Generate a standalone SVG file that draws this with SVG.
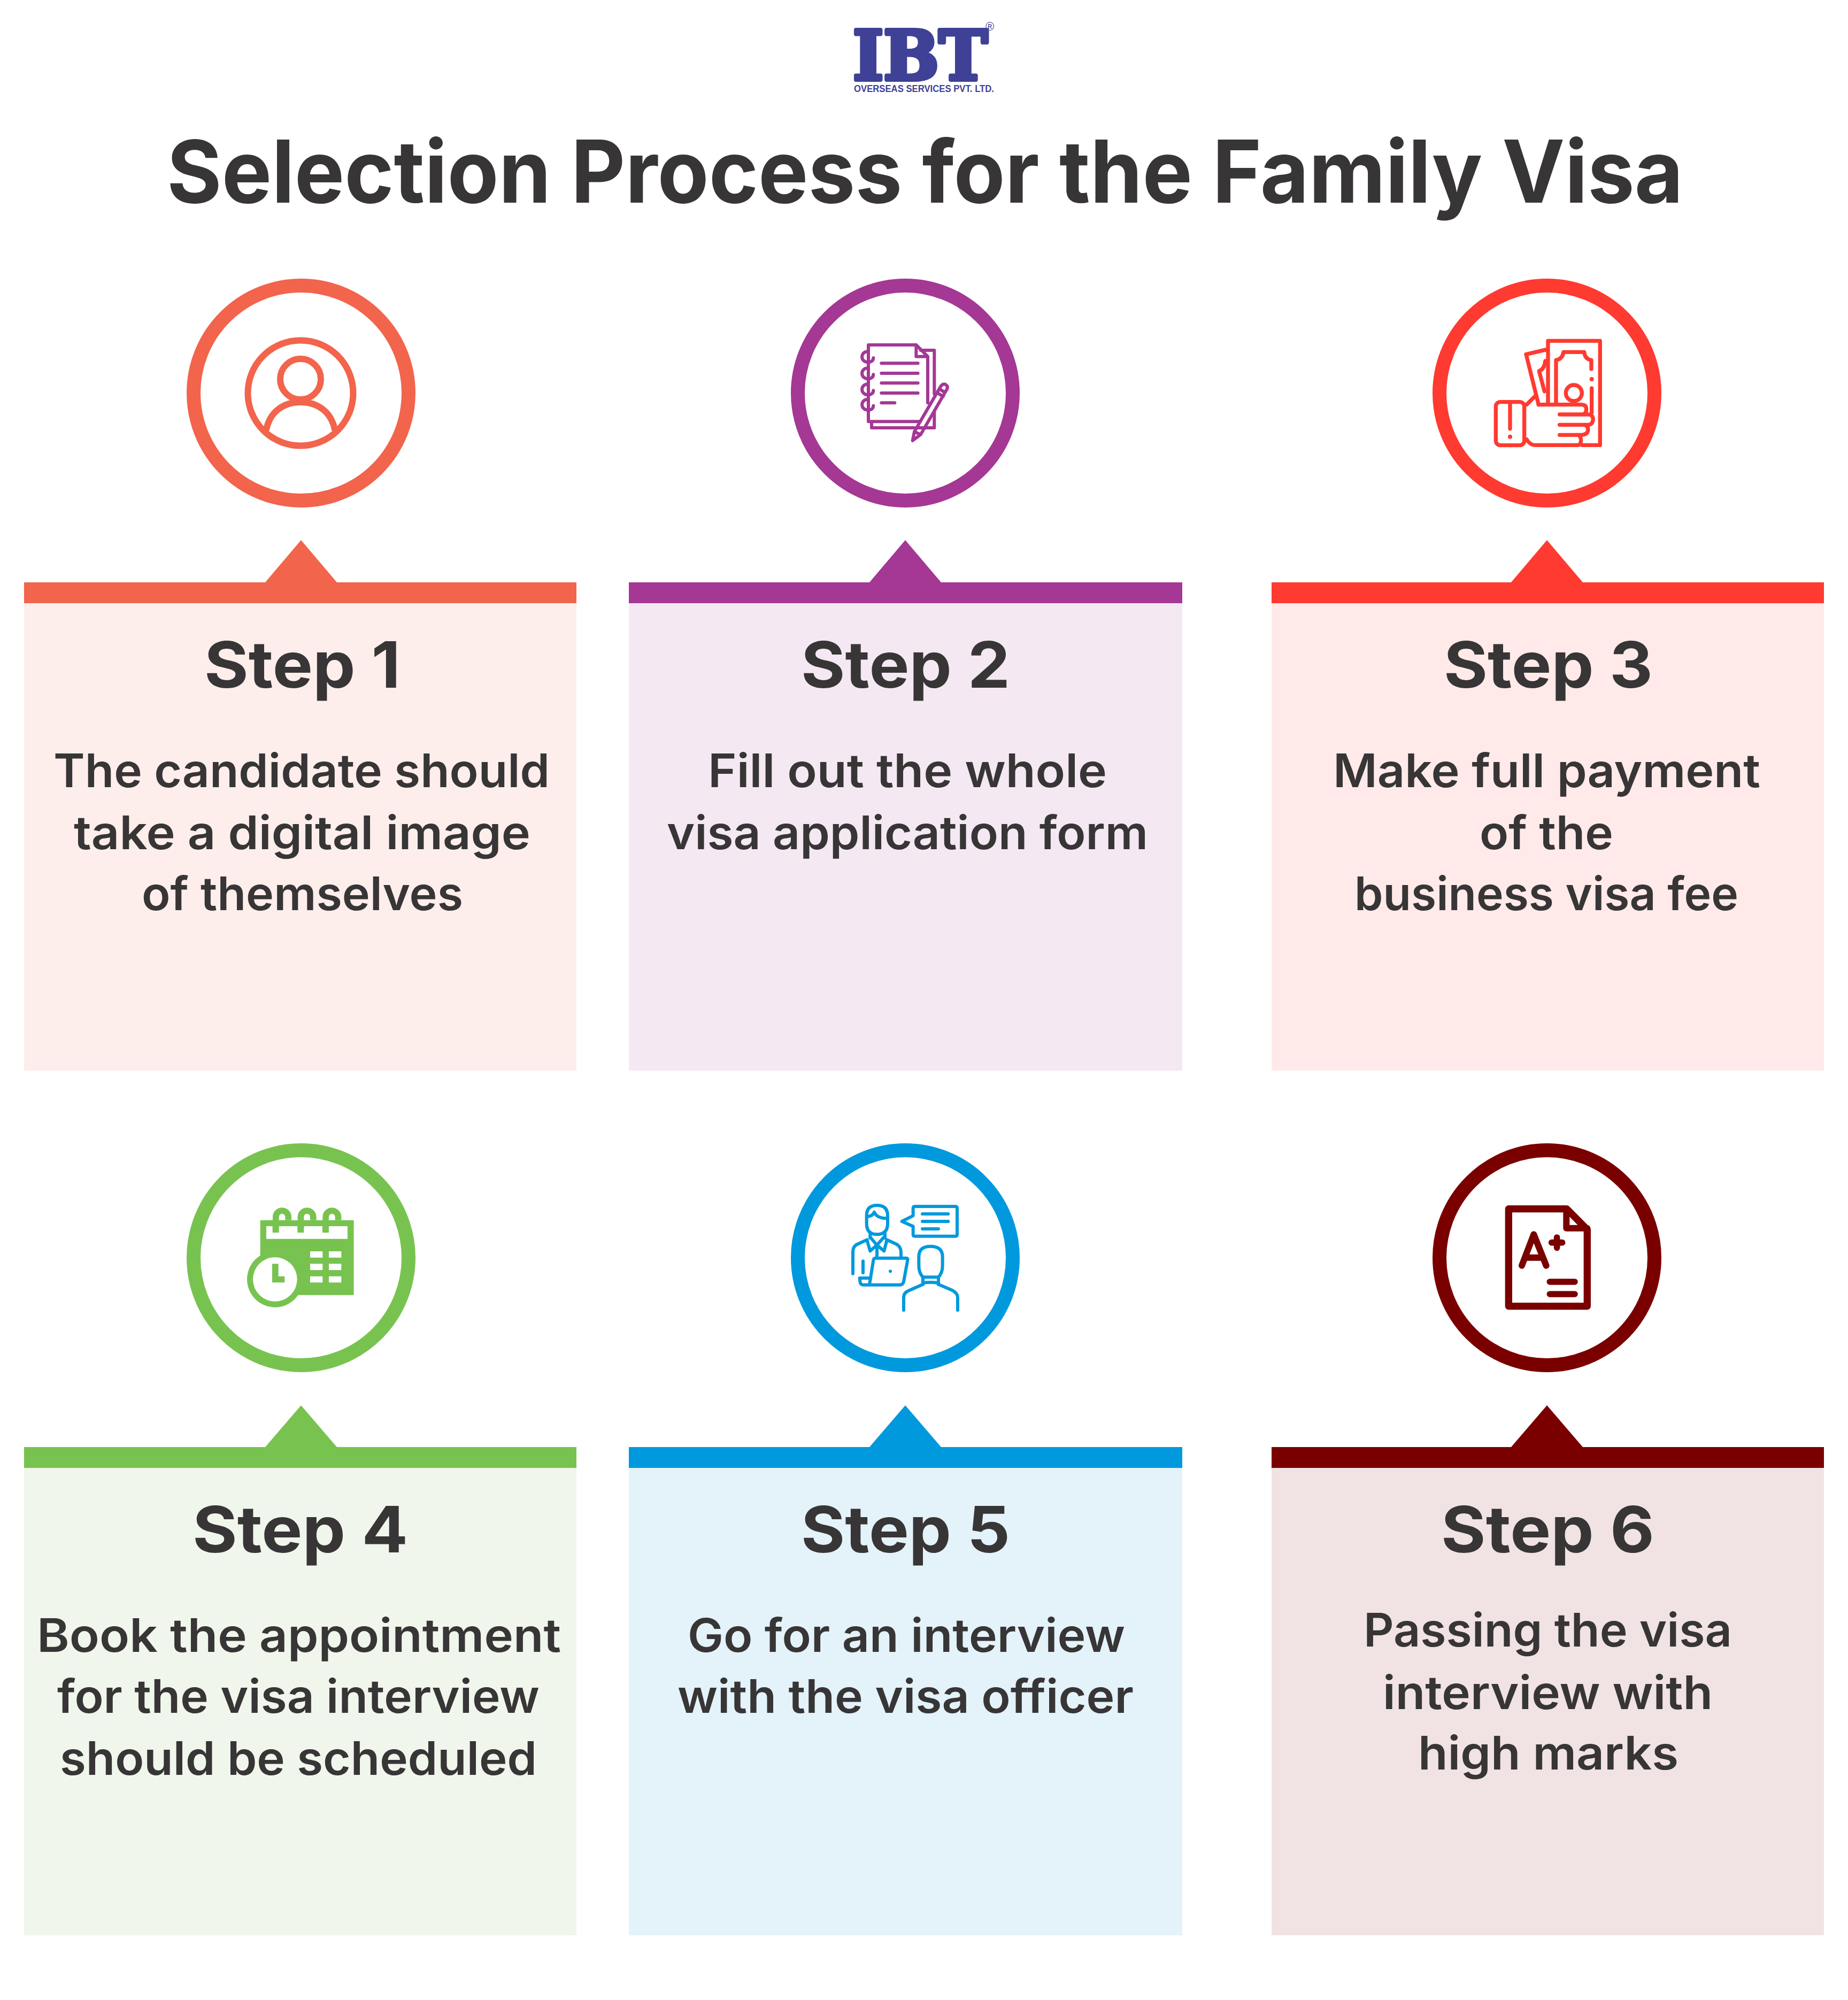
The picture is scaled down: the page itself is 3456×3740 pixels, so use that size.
<svg xmlns="http://www.w3.org/2000/svg" width="3456" height="3740" viewBox="0 0 3456 3740">
<style>
text{font-family:"Inter","Liberation Sans",sans-serif;fill:#373535}
.title{font-size:162px;font-weight:700}
.step{font-size:120px;font-weight:700}
.body{font-size:86px;font-weight:600}
.ring{fill:#fff;stroke-width:26}
.ic{fill:none;stroke-linecap:round;stroke-linejoin:round}
.c1{color:#f2644c}.c2{color:#a43894}.c3{color:#ff3a30}.c4{color:#78c350}.c5{color:#0099dd}.c6{color:#7a0000}
.cf{fill:currentColor}
.cs{stroke:currentColor}
</style>
<rect width="3456" height="3740" fill="#fff"/>
<g id="logo">
<text x="1595" y="149" font-size="128" textLength="252" lengthAdjust="spacingAndGlyphs" style="font-family:'DejaVu Serif',serif;font-weight:700;fill:#3f4196;stroke:#3f4196;stroke-width:8;stroke-linejoin:round">IBT</text>
<text x="1597" y="172" textLength="262" lengthAdjust="spacingAndGlyphs" style="font-family:'Liberation Sans',sans-serif;font-weight:700;font-size:18px;fill:#3f4196">OVERSEAS SERVICES PVT. LTD.</text>
<text x="1843" y="57" style="font-family:'Liberation Sans',sans-serif;font-size:22px;fill:#3f4196">®</text>
</g>
<text id="title" class="title" x="312" y="379" textLength="2836" lengthAdjust="spacingAndGlyphs">Selection Process for the Family Visa</text>

<g id="step1" class="c1">
<circle class="ring cs" cx="563" cy="735" r="201"/>
<path class="cf" d="M496 1089L563 1010L630 1089H1078V1128H45V1089Z"/>
<rect x="45" y="1128" width="1033" height="874" fill="#fdeeeb"/>
<g class="ic cs" stroke-width="12">
<circle cx="562" cy="735" r="98.500"/>
<circle cx="562" cy="709" r="38"/>
<path d="M498 803C505 770 530 752 562 752C594 752 619 770 626 803"/>
</g>
<text class="step" x="382" y="1286" textLength="367" lengthAdjust="spacingAndGlyphs">Step 1</text>
<text class="body" x="100" y="1472" textLength="928" lengthAdjust="spacingAndGlyphs">The candidate should</text>
<text class="body" x="138" y="1588" textLength="854" lengthAdjust="spacingAndGlyphs">take a digital image</text>
<text class="body" x="265" y="1702" textLength="601" lengthAdjust="spacingAndGlyphs">of themselves</text>
</g>

<g id="step2" class="c2">
<circle class="ring cs" cx="1693" cy="735" r="201"/>
<path class="cf" d="M1626 1089L1693 1010L1760 1089H2211V1128H1176V1089Z"/>
<rect x="1176" y="1128" width="1035" height="874" fill="#f4e8f3"/>
<g class="ic cs" stroke-width="18" transform="translate(1540 600) scale(.3333)">
<path d="M545 165H622V410M622 505V600H525M510 600H270V570"/>
<path d="M520 135H252V565H540M520 135L585 200V460M520 135V200H585"/>
<path d="M250 172C205 172 205 232 250 232C270 232 280 222 280 208"/>
<path d="M250 265C205 265 205 325 250 325C270 325 280 315 280 301"/>
<path d="M250 355C205 355 205 415 250 415C270 415 280 405 280 391"/>
<path d="M250 440C205 440 205 500 250 500C270 500 280 490 280 476"/>
<path d="M325 238H530M325 294H530M325 349H530M325 405H530M325 460H400"/>
<path d="M500 672L510 622L655 372Q668 350 685 357Q702 368 692 385L545 638ZM510 622L545 638M650 382L680 400M640 405L672 424"/>
</g>
<text class="step" x="1498" y="1286" textLength="391" lengthAdjust="spacingAndGlyphs">Step 2</text>
<text class="body" x="1324" y="1472" textLength="746" lengthAdjust="spacingAndGlyphs">Fill out the whole</text>
<text class="body" x="1247" y="1588" textLength="900" lengthAdjust="spacingAndGlyphs">visa application form</text>
</g>

<g id="step3" class="c3">
<circle class="ring cs" cx="2893" cy="735" r="201"/>
<path class="cf" d="M2826 1089L2893 1010L2960 1089H3411V1128H2378V1089Z"/>
<rect x="2378" y="1128" width="1033" height="874" fill="#ffeae9"/>
<g class="ic cs" stroke-width="22" transform="translate(2740 600) scale(.3333)">
<path d="M465 458V112H757V697H655"/>
<path d="M510 458V220Q545 215 552 175H668Q672 215 708 220V270M710 378V515"/>
<circle cx="610" cy="405" r="45"/>
<path d="M460 160L342 188L412 470"/>
<path d="M450 225Q445 270 415 282L445 395"/>
<path d="M412 470H650Q680 470 680 495Q680 525 655 525H530M655 525H695Q718 530 718 552Q715 583 690 583H530M670 583Q690 590 690 610Q688 640 650 640H530M630 640Q650 645 650 670Q650 697 630 697H390Q365 697 345 665"/>
<path d="M345 470L395 420"/>
<rect x="172" y="455" width="160" height="243" rx="25"/>
<path d="M252 465V605"/>
</g>
<g class="cf">
<circle cx="2976.700" cy="709" r="4"/>
<circle cx="2824" cy="816.700" r="4"/>
</g>
<text class="step" x="2700" y="1286" textLength="391" lengthAdjust="spacingAndGlyphs">Step 3</text>
<text class="body" x="2493" y="1472" textLength="799" lengthAdjust="spacingAndGlyphs">Make full payment</text>
<text class="body" x="2767" y="1588" textLength="250" lengthAdjust="spacingAndGlyphs">of the</text>
<text class="body" x="2533" y="1702" textLength="718" lengthAdjust="spacingAndGlyphs">business visa fee</text>
</g>

<g id="step4" class="c4">
<circle class="ring cs" cx="563" cy="2352" r="201"/>
<path class="cf" d="M496 2706L563 2628L630 2706H1078V2745H45V2706Z"/>
<rect x="45" y="2745" width="1033" height="874" fill="#f0f6eb"/>
<g transform="translate(430 2210) scale(.3333)">
<path class="cf" d="M170 215H695V635H170Z"/>
<path fill="#fff" d="M204 249H660V320H204Z"/>
<path class="cf" d="M239 249H275V285H239ZM379 249H415V285H379ZM519 249H555V285H519Z"/>
<path class="ic cs" stroke-width="35" style="stroke-linecap:butt" d="M257.500 260V197A35 35 0 0 1 327.500 197V215M397.500 260V197A35 35 0 0 1 467.500 197V215M537.500 260V197A35 35 0 0 1 607.500 197V215"/>
<path fill="#fff" d="M450 390H520V425H450ZM555 390H625V425H555ZM450 460H520V495H450ZM555 460H625V495H555ZM450 530H520V565H450ZM555 530H625V565H555Z"/>
<circle class="cf" cx="253" cy="547" r="157"/>
<circle cx="253" cy="547" r="124" fill="#fff"/>
<path class="cf" d="M237 460H272V530H307V565H237Z"/>
</g>
<text class="step" x="360" y="2903" textLength="403" lengthAdjust="spacingAndGlyphs">Step 4</text>
<text class="body" x="69" y="3089" textLength="980" lengthAdjust="spacingAndGlyphs">Book the appointment</text>
<text class="body" x="107" y="3203" textLength="902" lengthAdjust="spacingAndGlyphs">for the visa interview</text>
<text class="body" x="112" y="3319" textLength="892" lengthAdjust="spacingAndGlyphs">should be scheduled</text>
</g>

<g id="step5" class="c5">
<circle class="ring cs" cx="1693" cy="2352" r="201"/>
<path class="cf" d="M1626 2706L1693 2628L1760 2706H2211V2745H1176V2706Z"/>
<rect x="1176" y="2745" width="1035" height="874" fill="#e4f2fa"/>
<g class="ic cs" stroke-width="18" transform="translate(1540 2210) scale(.3333)">
<path d="M503 190V148Q503 138 513 138H740Q750 138 750 148V296Q750 305 740 305H513Q503 305 503 296V250L440 222Z"/>
<path d="M555 180H700M555 222H700M555 264H645"/>
<path d="M242 235V190Q242 132 300 132Q360 132 360 190V235Q360 295 300 295Q242 295 242 235Z"/>
<path d="M245 195Q275 195 285 170Q300 205 355 205"/>
<path d="M262 290V315M345 290V315M262 310L300 355L340 310M245 330L262 388L300 355L340 388L355 330M300 355V425"/>
<path d="M165 515V395Q165 360 190 350L245 325M355 325L410 350Q435 365 435 395V425"/>
<path d="M222 445V510"/>
<path d="M290 428H465Q475 428 472 440L450 560Q445 578 430 578H258L280 440Q282 428 290 428ZM258 578H222Q210 578 206 565L203 540H265"/>
<path d="M535 420Q535 362 600 362Q668 362 668 420V470Q668 510 645 535H558Q535 510 535 470Z"/>
<path d="M558 535V575M645 535V575M558 568Q600 560 645 568"/>
<path d="M450 720V650Q450 620 480 610L558 575M645 575L725 610Q753 625 753 650V720"/>
</g>
<circle class="cf" cx="1665" cy="2377.300" r="3"/>
<text class="step" x="1498" y="2903" textLength="391" lengthAdjust="spacingAndGlyphs">Step 5</text>
<text class="body" x="1286" y="3089" textLength="818" lengthAdjust="spacingAndGlyphs">Go for an interview</text>
<text class="body" x="1267" y="3203" textLength="853" lengthAdjust="spacingAndGlyphs">with the visa officer</text>
</g>

<g id="step6" class="c6">
<circle class="ring cs" cx="2893" cy="2352" r="201"/>
<path class="cf" d="M2826 2706L2893 2628L2960 2706H3411V2745H2378V2706Z"/>
<rect x="2378" y="2745" width="1033" height="874" fill="#f1e3e3"/>
<g class="ic cs" transform="translate(2760 2210) scale(.3333)">
<path stroke-width="40" d="M184 152H510L625 268V698H184Z"/>
<path stroke-width="36" d="M508 152V260H625"/>
<path stroke-width="36" d="M258 470L325 295L395 470M290 425H365"/>
<path stroke-width="35" d="M455 312V370M425 341H485M415 561H555M415 630H555"/>
</g>
<text class="step" x="2695" y="2903" textLength="399" lengthAdjust="spacingAndGlyphs">Step 6</text>
<text class="body" x="2550" y="3079" textLength="689" lengthAdjust="spacingAndGlyphs">Passing the visa</text>
<text class="body" x="2586" y="3196" textLength="617" lengthAdjust="spacingAndGlyphs">interview with</text>
<text class="body" x="2652" y="3309" textLength="487" lengthAdjust="spacingAndGlyphs">high marks</text>
</g>
</svg>
